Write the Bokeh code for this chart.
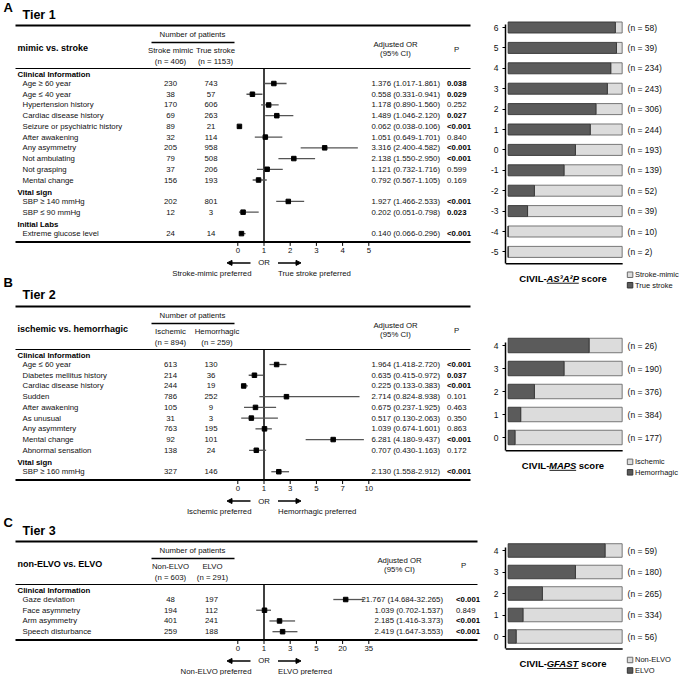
import numpy as np
from bokeh.plotting import figure
from bokeh.models import Range1d, FixedTicker, ColumnDataSource, Arrow, NormalHead
from bokeh.layouts import row, column
from bokeh.embed import file_html
from bokeh.resources import INLINE
from bokeh.core.properties import value

FONT = "Liberation Sans"
INK = "#111111"
DARK = "#5b5b5b"
LIGHT = "#dcdcdc"

# ================= Tier 1 data =================
t1_sections = ["Clinical Information", "Vital sign", "Initial Labs"]
t1_section_sizes = [10, 2, 1]
t1_labels = ["Age ≥ 60 year", "Age ≤ 40 year", "Hypertension history", "Cardiac disease history",
             "Seizure or psychiatric history", "After awakening", "Any asymmetry", "Not ambulating",
             "Not grasping", "Mental change", "SBP ≥ 140 mmHg", "SBP ≤ 90 mmHg", "Extreme glucose level"]
t1_n_mimic = [230, 38, 170, 69, 89, 32, 205, 79, 37, 156, 202, 12, 24]
t1_n_stroke = [743, 57, 606, 263, 21, 114, 958, 508, 206, 193, 801, 3, 14]
t1_or = [1.376, 0.558, 1.178, 1.489, 0.062, 1.051, 3.316, 2.138, 1.121, 0.792, 1.927, 0.202, 0.140]
t1_lo = [1.017, 0.331, 0.890, 1.046, 0.038, 0.649, 2.400, 1.550, 0.732, 0.567, 1.466, 0.051, 0.066]
t1_hi = [1.861, 0.941, 1.560, 2.120, 0.106, 1.701, 4.582, 2.950, 1.716, 1.105, 2.533, 0.798, 0.296]
t1_p = ["0.038", "0.029", "0.252", "0.027", "<0.001", "0.840", "<0.001", "<0.001", "0.599", "0.169",
        "<0.001", "0.023", "<0.001"]
t1_ticks = [0, 1, 2, 3, 4, 5]
t1_tick_labels = ["0", "1", "2", "3", "4", "5"]
t1_scores = [6, 5, 4, 3, 2, 1, 0, -1, -2, -3, -4, -5]
t1_score_labels = ["6", "5", "4", "3", "2", "1", "0", "-1", "-2", "-3", "-4", "-5"]
t1_score_n = [58, 39, 234, 243, 306, 244, 193, 139, 52, 39, 10, 2]
t1_true_stroke_frac = [0.94, 0.95, 0.90, 0.87, 0.77, 0.72, 0.59, 0.49, 0.23, 0.17, 0.0, 0.0]

# ================= Tier 2 data =================
t2_sections = ["Clinical Information", "Vital sign"]
t2_section_sizes = [9, 1]
t2_labels = ["Age ≤ 60 year", "Diabetes mellitus history", "Cardiac disease history", "Sudden",
             "After awakening", "As unusual", "Any asymmtery", "Mental change", "Abnormal sensation",
             "SBP ≥ 160 mmHg"]
t2_n_isch = [613, 214, 244, 786, 105, 31, 763, 92, 138, 327]
t2_n_hem = [130, 36, 19, 252, 9, 3, 195, 101, 24, 146]
t2_or = [1.964, 0.635, 0.225, 2.714, 0.675, 0.517, 1.039, 6.281, 0.707, 2.130]
t2_lo = [1.418, 0.415, 0.133, 0.824, 0.237, 0.130, 0.674, 4.180, 0.430, 1.558]
t2_hi = [2.720, 0.972, 0.383, 8.938, 1.925, 2.063, 1.601, 9.437, 1.163, 2.912]
t2_p = ["<0.001", "0.037", "<0.001", "0.101", "0.463", "0.350", "0.863", "<0.001", "0.172", "<0.001"]
t2_ticks = [0, 1, 3, 5, 7, 10]
t2_tick_labels = ["0", "1", "3", "5", "7", "10"]
t2_scores = [4, 3, 2, 1, 0]
t2_score_labels = ["4", "3", "2", "1", "0"]
t2_score_n = [26, 190, 376, 384, 177]
t2_hem_frac = [0.71, 0.49, 0.23, 0.11, 0.06]

# ================= Tier 3 data =================
t3_sections = ["Clinical Information"]
t3_section_sizes = [4]
t3_labels = ["Gaze deviation", "Face asymmetry", "Arm asymmetry", "Speech disturbance"]
t3_n_nonelvo = [48, 194, 401, 259]
t3_n_elvo = [197, 112, 241, 188]
t3_or = [21.767, 1.039, 2.185, 2.419]
t3_lo = [14.684, 0.702, 1.416, 1.647]
t3_hi = [32.265, 1.537, 3.373, 3.553]
t3_p = ["<0.001", "0.849", "<0.001", "<0.001"]
t3_ticks = [0, 1, 3, 5, 20, 35]
t3_tick_labels = ["0", "1", "3", "5", "20", "35"]
t3_scores = [4, 3, 2, 1, 0]
t3_score_labels = ["4", "3", "2", "1", "0"]
t3_score_n = [59, 180, 265, 334, 56]
t3_elvo_frac = [0.85, 0.59, 0.30, 0.13, 0.07]

# ================= layout constants =================
SX = 1.0
SY = 1.0
X0, Y0 = 0.0, 0.0
W_LEFT, W_BAR, H_TOTAL = 487, 193, 675
BAR_FIG_H = [300, 210, 165]
AXIS_PAD = 16
FR_L = X0 + (W_LEFT + AXIS_PAD) / SX
FR_R = X0 + (W_LEFT + W_BAR) / SX
BAR_X0, BAR_X1 = 505.7, 621.0
OR_X0, OR_UNIT = 237.3, 26.2
D = 10.72
FS = "7.8px"

BOLD_W = {'C': 722, 'I': 278, 'V': 667, 'L': 611, '-': 333, 'A': 722, 'S': 667, '³': 333, '²': 333,
          'P': 667, 'M': 833, 'G': 778, 'F': 611, 'T': 611, ' ': 278, 's': 556, 'c': 556, 'o': 611,
          'r': 389, 'e': 556}


def bold_width(s, size):
    return sum(BOLD_W.get(ch, 600) for ch in s) * size / 1000.0


def txt(p, x, y, t, size=FS, align="left", style="normal", color=INK, xr="default", yr="default"):
    src = ColumnDataSource(dict(x=list(x), y=list(y), t=list(t)))
    p.text(x="x", y="y", text="t", source=src, text_font=value(FONT), text_font_size=size,
           text_align=align, text_baseline="middle", text_font_style=style, text_color=color,
           x_range_name=xr, y_range_name=yr)


def hrule(p, x0, x1, y, w, xr="default"):
    p.segment(x0=[x0], y0=[y], x1=[x1], y1=[y], line_color="black", line_width=w, x_range_name=xr)


def is_sig(s):
    return s.startswith("<") or float(s) < 0.05


# ================= left figure (tables + forest plots) =================
left = figure(width=W_LEFT, height=H_TOTAL,
              x_range=Range1d(X0, X0 + W_LEFT / SX),
              y_range=Range1d(Y0 + H_TOTAL / SY, Y0),
              x_axis_location=None, y_axis_location=None,
              toolbar_location=None, output_backend="svg", min_border=0,
              outline_line_color=None, background_fill_color="white", border_fill_color="white")
left.extra_x_ranges = {"or": Range1d((X0 - OR_X0) / OR_UNIT, (X0 + W_LEFT / SX - OR_X0) / OR_UNIT)}
left.xgrid.visible = False
left.ygrid.visible = False

tiers = [
    dict(letter="A", letter_y=7, title="Tier 1", title_y=14.7, top=25, right=470,
         group="mimic vs. stroke", col1="Stroke mimic", n1="(n = 406)", col2="True stroke", n2="(n = 1153)",
         c2h=215, c2=210.5, adj_x=395, p_x=456, or_right=439.5, p_left=446.5,
         sections=t1_sections, sizes=t1_section_sizes, labels=t1_labels, a=t1_n_mimic, b=t1_n_stroke,
         orv=t1_or, lo=t1_lo, hi=t1_hi, p=t1_p, ticks=t1_ticks, tick_labels=t1_tick_labels,
         lpref="Stroke-mimic preferred", rpref="True stroke preferred"),
    dict(letter="B", letter_y=282, title="Tier 2", title_y=294, top=306, right=470,
         group="ischemic vs. hemorrhagic", col1="Ischemic", n1="(n = 894)", col2="Hemorrhagic", n2="(n = 259)",
         c2h=216.5, c2=210.5, adj_x=395, p_x=456, or_right=439.5, p_left=446.5,
         sections=t2_sections, sizes=t2_section_sizes, labels=t2_labels, a=t2_n_isch, b=t2_n_hem,
         orv=t2_or, lo=t2_lo, hi=t2_hi, p=t2_p, ticks=t2_ticks, tick_labels=t2_tick_labels,
         lpref="Ischemic preferred", rpref="Hemorrhagic preferred"),
    dict(letter="C", letter_y=522, title="Tier 3", title_y=530, top=541, right=477,
         group="non-ELVO vs. ELVO", col1="Non-ELVO", n1="(n = 603)", col2="ELVO", n2="(n = 291)",
         c2h=212, c2=211, adj_x=399, p_x=463, or_right=442.5, p_left=455.5,
         sections=t3_sections, sizes=t3_section_sizes, labels=t3_labels, a=t3_n_nonelvo, b=t3_n_elvo,
         orv=t3_or, lo=t3_lo, hi=t3_hi, p=t3_p, ticks=t3_ticks, tick_labels=t3_tick_labels,
         lpref="Non-ELVO preferred", rpref="ELVO preferred"),
]

for cfg in tiers:
    top = cfg["top"]
    R = cfg["right"]
    txt(left, [3], [cfg["letter_y"]], [cfg["letter"]], "13px", style="bold", color="black")
    txt(left, [22], [cfg["title_y"]], [cfg["title"]], "12.5px", style="bold", color="black")
    hrule(left, 15, R, top, 2)
    txt(left, [192], [top + 9], ["Number of patients"], FS, align="center")
    hrule(left, 151, 234, top + 17, 1.5)
    txt(left, [17], [top + 22.5], [cfg["group"]], "9px", style="bold", color="black")
    txt(left, [170, cfg["c2h"]], [top + 24.5] * 2, [cfg["col1"], cfg["col2"]], FS, align="center")
    txt(left, [170, cfg["c2h"]], [top + 35.5] * 2, [cfg["n1"], cfg["n2"]], FS, align="center")
    txt(left, [cfg["adj_x"]] * 2, [top + 18.5, top + 28], ["Adjusted OR", "(95% CI)"], FS, align="center")
    txt(left, [cfg["p_x"]], [top + 23.5], ["P"], FS, align="center")
    hr = top + 43
    hrule(left, 15, R, hr, 1.2)
    slot0 = hr + 4.3

    k = 0
    sec_y, row_y = [], []
    for name, size in zip(cfg["sections"], cfg["sizes"]):
        sec_y.append(slot0 + k * D + 1.5)
        k += 1
        for _ in range(size):
            row_y.append(slot0 + k * D)
            k += 1
    bottom = row_y[-1] + 8.3

    txt(left, [17] * len(sec_y), sec_y, cfg["sections"], FS, style="bold", color="black")
    txt(left, [22] * len(row_y), row_y, cfg["labels"], FS)
    txt(left, [170] * len(row_y), row_y, [str(v) for v in cfg["a"]], FS, align="center")
    txt(left, [cfg["c2"]] * len(row_y), row_y, [str(v) for v in cfg["b"]], FS, align="center")
    or_txt = ["%.3f (%.3f-%.3f)" % (o, l, h) for o, l, h in zip(cfg["orv"], cfg["lo"], cfg["hi"])]
    txt(left, [cfg["or_right"]] * len(row_y), row_y, or_txt, FS, align="right")
    sig = [is_sig(s) for s in cfg["p"]]
    ys_b = [y for y, s in zip(row_y, sig) if s]
    ps_b = [pv for pv, s in zip(cfg["p"], sig) if s]
    ys_n = [y for y, s in zip(row_y, sig) if not s]
    ps_n = [pv for pv, s in zip(cfg["p"], sig) if not s]
    txt(left, [cfg["p_left"]] * len(ys_b), ys_b, ps_b, FS, style="bold", color="black")
    txt(left, [cfg["p_left"]] * len(ys_n), ys_n, ps_n, FS)

    # forest plot (piecewise-linear OR axis)
    idx = np.arange(len(cfg["ticks"]), dtype=float)
    tick_arr = np.array(cfg["ticks"], dtype=float)
    u = lambda v: np.interp(np.asarray(v, dtype=float), tick_arr, idx)
    u_one = float(u(1.0))
    left.segment(x0=[u_one], y0=[hr], x1=[u_one], y1=[bottom], line_color="black", line_width=1.5,
                 x_range_name="or")
    left.segment(x0=u(cfg["lo"]), y0=row_y, x1=u(cfg["hi"]), y1=row_y, line_color="#555555",
                 line_width=1.3, x_range_name="or")
    left.scatter(x=u(cfg["orv"]), y=row_y, marker="square", size=4.5, fill_color="black",
                 line_color="black", x_range_name="or")
    hrule(left, 15, R, bottom, 2)
    left.segment(x0=idx, y0=[bottom + 1] * len(idx), x1=idx, y1=[bottom + 4] * len(idx),
                 line_color="black", line_width=1, x_range_name="or")
    txt(left, idx, [bottom + 8.5] * len(idx), cfg["tick_labels"], FS, align="center", xr="or")
    txt(left, [u_one], [bottom + 21], ["OR"], FS, align="center", xr="or")
    left.add_layout(Arrow(x_start=250, y_start=bottom + 21, x_end=226.5, y_end=bottom + 21,
                          line_width=1.5, line_color="black",
                          end=NormalHead(size=5, fill_color="black", line_color="black")))
    left.add_layout(Arrow(x_start=277.5, y_start=bottom + 21, x_end=300.5, y_end=bottom + 21,
                          line_width=1.5, line_color="black",
                          end=NormalHead(size=5, fill_color="black", line_color="black")))
    txt(left, [251], [bottom + 31.5], [cfg["lpref"]], FS, align="right")
    txt(left, [277.5], [bottom + 31.5], [cfg["rpref"]], FS, align="left")


# ================= bar figures =================
def make_bar(i, scores, score_labels, frac, ns, c_top, spacing, bar_h, core, leg_light, leg_dark):
    h = BAR_FIG_H[i]
    y_top = Y0 + sum(BAR_FIG_H[:i]) / SY
    y_bot = y_top + h / SY
    s_top, s_min = scores[0], scores[-1]

    def s_of(px):
        return s_top - (px - c_top) / spacing

    def f_of(px):
        return (px - BAR_X0) / (BAR_X1 - BAR_X0)

    p = figure(width=W_BAR, height=h, x_range=Range1d(f_of(FR_L), f_of(FR_R)),
               y_range=Range1d(s_of(y_bot), s_of(y_top)),
               x_axis_location=None, y_axis_location="left", toolbar_location=None,
               output_backend="svg", min_border=0, min_border_left=AXIS_PAD,
               outline_line_color=None, background_fill_color="white", border_fill_color="white")
    p.extra_x_ranges = {"px": Range1d(FR_L, FR_R)}
    p.extra_y_ranges = {"py": Range1d(y_bot, y_top)}
    p.xgrid.visible = False
    p.ygrid.visible = False

    base = s_min - 0.58
    ax = p.yaxis[0]
    ax.ticker = FixedTicker(ticks=scores)
    ax.major_label_overrides = {s: l for s, l in zip(scores, score_labels)}
    ax.bounds = (base, s_top + 0.15)
    ax.axis_line_width = 1.5
    ax.axis_line_color = "black"
    ax.major_tick_in = 0
    ax.major_tick_out = 3
    ax.major_tick_line_width = 1
    ax.major_tick_line_color = "black"
    ax.minor_tick_line_color = None
    ax.major_label_text_font = FONT
    ax.major_label_text_font_size = "8.5px"
    ax.major_label_text_color = INK
    ax.major_label_standoff = 4

    src = ColumnDataSource(dict(y=scores, f=frac, total=[1.0] * len(scores)))
    p.hbar(y="y", left="f", right="total", height=bar_h, fill_color=LIGHT, line_color="#6a6a6a",
           line_width=0.9, source=src)
    p.hbar(y="y", left=0, right="f", height=bar_h, fill_color=DARK, line_color="#333333",
           line_width=0.9, source=src)

    txt(p, [626.5] * len(scores), scores, ["(n = %d)" % n for n in ns], "8.5px", xr="px")
    p.segment(x0=[FR_L], y0=[base], x1=[BAR_X1 + 0.5], y1=[base], line_color="black", line_width=1.5,
              x_range_name="px")

    base_px = c_top + (s_top - base) * spacing
    ty = base_px + 14.5
    size = 9.5
    wp = bold_width("CIVIL-", size) / SX
    wc = bold_width(core, size) / SX
    wsp = bold_width(" ", size) / SX
    ws = bold_width("score", size) / SX
    xs = 561 - (wp + wc + wsp + ws) / 2
    txt(p, [xs], [ty], ["CIVIL-"], "9.5px", style="bold", color="black", xr="px", yr="py")
    txt(p, [xs + wp], [ty], [core], "9.5px", style="bold italic", color="black", xr="px", yr="py")
    txt(p, [xs + wp + wc + wsp], [ty], ["score"], "9.5px", style="bold", color="black", xr="px", yr="py")
    p.segment(x0=[xs + wp + 0.5], y0=[ty + 5], x1=[xs + wp + wc], y1=[ty + 5], line_color="black",
              line_width=0.9, x_range_name="px", y_range_name="py")

    ly = [base_px + 11, base_px + 21.5]
    p.scatter(x=[629], y=[ly[0]], marker="square", size=5.5, fill_color=LIGHT, line_color="#6a6a6a",
              x_range_name="px", y_range_name="py")
    p.scatter(x=[629], y=[ly[1]], marker="square", size=5.5, fill_color=DARK, line_color="#333333",
              x_range_name="px", y_range_name="py")
    txt(p, [634, 634], ly, [leg_light, leg_dark], "7.5px", xr="px", yr="py")
    return p


bar1 = make_bar(0, t1_scores, t1_score_labels, t1_true_stroke_frac, t1_score_n, 27, 20.4, 0.54,
                "AS³A²P", "Stroke-mimic", "True stroke")
bar2 = make_bar(1, t2_scores, t2_score_labels, t2_hem_frac, t2_score_n, 345, 23.0, 0.63,
                "MAPS", "Ischemic", "Hemorrhagic")
bar3 = make_bar(2, t3_scores, t3_score_labels, t3_elvo_frac, t3_score_n, 550, 21.5, 0.63,
                "GFAST", "Non-ELVO", "ELVO")

layout = row(left, column(bar1, bar2, bar3))
open("out.html", "w", encoding="utf-8").write(file_html(layout, INLINE))
